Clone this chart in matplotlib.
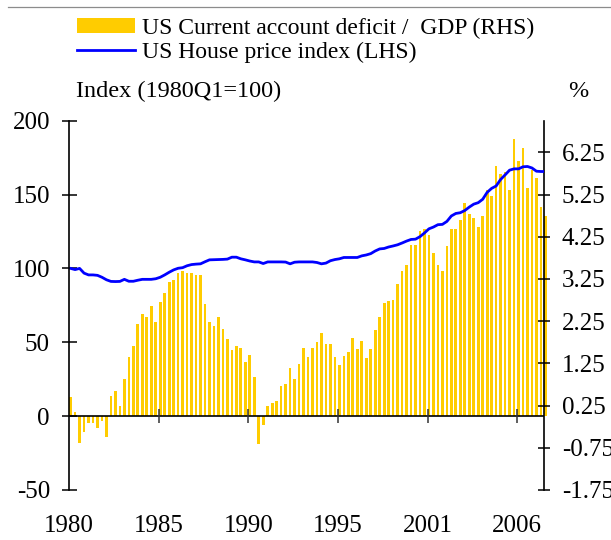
import matplotlib
matplotlib.use('Agg')
import matplotlib.pyplot as plt
from matplotlib.patches import Patch
from matplotlib.lines import Line2D
import numpy as np

plt.rcParams['font.family'] = ['Liberation Serif', 'DejaVu Serif']
plt.rcParams['axes.unicode_minus'] = False

# US current account deficit / GDP, %, quarterly (RHS)
ca_deficit = [
    0.46, 0.09, -0.63, -0.37, -0.16, -0.16, -0.28, -0.11, -0.49, 0.47,
    0.59, 0.25, 0.89, 1.41, 1.67, 2.19, 2.41, 2.35, 2.61, 2.23,
    2.70, 2.92, 3.18, 3.22, 3.39, 3.44, 3.39, 3.39, 3.34, 3.34,
    2.66, 2.23, 2.14, 2.35, 2.06, 1.83, 1.57, 1.67, 1.62, 1.28,
    1.45, 0.93, -0.67, -0.22, 0.25, 0.32, 0.37, 0.72, 0.77, 1.15,
    0.89, 1.24, 1.62, 1.41, 1.62, 1.76, 1.97, 1.71, 1.71, 1.40,
    1.20, 1.42, 1.51, 1.84, 1.58, 1.77, 1.37, 1.58, 2.03, 2.36,
    2.67, 2.72, 2.76, 3.14, 3.45, 3.59, 4.06, 4.06, 4.39, 4.44,
    4.28, 3.87, 3.59, 3.45, 4.02, 4.44, 4.44, 4.65, 5.06, 4.80,
    4.70, 4.49, 4.75, 5.36, 5.22, 5.93, 5.74, 5.79, 5.36, 6.56,
    6.05, 6.35, 5.41, 5.83, 5.65, 4.96, 4.75,
]

# US house price index, 1980Q1=100 (LHS)
house_price = [
    100.0, 99.2, 100.0, 96.8, 95.6, 95.6, 95.3, 94.0, 92.3, 91.2,
    91.1, 91.2, 92.6, 91.3, 91.3, 92.0, 92.6, 92.6, 92.6, 93.0,
    94.0, 95.6, 97.4, 99.0, 100.1, 100.5, 101.8, 102.6, 102.9, 103.1,
    104.5, 105.8, 105.9, 106.0, 106.1, 106.3, 107.6, 107.6, 106.5, 105.8,
    105.0, 104.4, 104.4, 103.3, 104.4, 104.4, 104.4, 104.4, 104.3, 103.1,
    104.2, 104.4, 104.4, 104.4, 104.4, 104.0, 103.1, 103.6, 105.2, 106.0,
    106.5, 107.4, 107.4, 107.4, 107.4, 108.5, 109.1, 110.0, 111.8, 113.2,
    113.5, 114.5, 115.2, 116.0, 117.2, 118.5, 119.6, 119.8, 121.5, 124.0,
    126.8, 128.0, 129.6, 129.8, 131.8, 135.5, 137.2, 137.7, 139.2, 141.5,
    143.5, 144.5, 146.8, 151.5, 154.2, 155.8, 160.2, 163.3, 166.5, 167.4,
    167.4, 168.8, 169.0, 168.0, 165.8, 165.6, 165.6,
]

year_labels = ['1980', '1985', '1990', '1995', '2001', '2006']
year_ticks = [-0.3, 19.7, 39.7, 59.7, 79.7, 99.7]

left_ticks = [-50, 0, 50, 100, 150, 200]
right_ticks = [-1.75, -0.75, 0.25, 1.25, 2.25, 3.25, 4.25, 5.25, 6.25]

bar_color = '#FFCC00'
line_color = '#0000FF'

x = np.arange(len(ca_deficit))

fig = plt.figure(figsize=(6.11, 5.4), dpi=100)
ax = fig.add_axes([0.1134, 0.0926, 0.7774, 0.6839])
ax2 = ax.twinx()

# bars on the right axis, line on the left axis drawn in front
ax2.bar(x, ca_deficit, width=0.6, color=bar_color, linewidth=0, clip_on=False)
ax.plot(x, house_price, color=line_color, lw=2)
ax.set_zorder(ax2.get_zorder() + 1)
ax.patch.set_visible(False)

ax.set_xlim(-0.3, 105.75)
ax.set_ylim(-50, 200)
ax2.set_ylim(-1.75, 7.0)

ax.axhline(0, color='black', lw=1.2)
ax.vlines(year_ticks[1:], -4.5, 4.5, color='#333333', lw=1.1)

ax.set_yticks(left_ticks)
ax2.set_yticks(right_ticks)
ax2.set_yticklabels([f'{v:.2f}' for v in right_ticks])
ax.set_xticks(year_ticks)
ax.set_xticklabels(year_labels)

for s in ['top', 'bottom', 'right']:
    ax.spines[s].set_visible(False)
for s in ['top', 'bottom', 'left']:
    ax2.spines[s].set_visible(False)
ax.spines['left'].set_linewidth(1.2)
ax2.spines['right'].set_linewidth(1.2)

ax.tick_params(axis='y', direction='inout', length=10.8, width=1.1, pad=8.5, labelsize=18)
ax2.tick_params(axis='y', direction='inout', length=9.1, width=1.1, pad=8, labelsize=18)
ax.tick_params(axis='x', length=0, pad=18, labelsize=18)

fig.text(76 / 611, 1 - 97 / 540, 'Index (1980Q1=100)', fontsize=17.5, va='baseline', ha='left')
fig.text(578 / 611, 1 - 97 / 540, '%', fontsize=17.5, va='baseline', ha='center')

handles = [Patch(facecolor=bar_color, edgecolor='none'),
           Line2D([], [], color=line_color, lw=2)]
labels = ['US Current account deficit /  GDP (RHS)', 'US House price index (LHS)']
fig.legend(handles, labels, loc='upper left', bbox_to_anchor=(77 / 611, 1 - 18 / 540),
           frameon=False, fontsize=17, borderpad=0, borderaxespad=0,
           handlelength=2.45, handleheight=0.6, handletextpad=0.3, labelspacing=0.12)

# thin grey rule across the top
fig.add_artist(Line2D([8 / 611, 1.0], [1 - 7.3 / 540, 1 - 7.3 / 540],
                      color='#8c8c8c', lw=0.9, transform=fig.transFigure))

fig.savefig('out.png', dpi=100)
